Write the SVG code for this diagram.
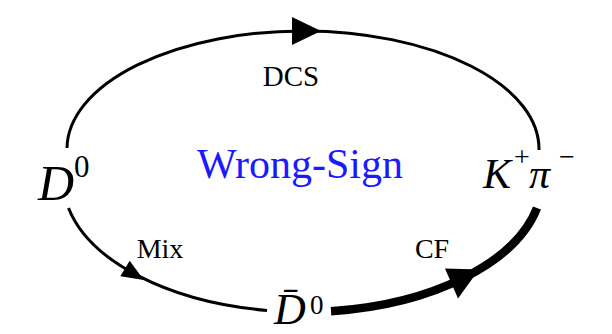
<svg xmlns="http://www.w3.org/2000/svg" width="612" height="334" viewBox="0 0 612 334">
<style>
.ln{fill:none;stroke:#000;stroke-linecap:butt}
.ah{fill:#000;stroke:none}
.t{font-family:"Liberation Serif","Times New Roman",serif;fill:#000}
.it{font-style:italic}
</style>
<rect width="612" height="334" fill="#fff"/>
<g id="connectors">
<path class="ln" stroke-width="3" d="M67,148 A236,118 0 0 1 539,150"/>
<polygon class="ah" points="292,17 292,45 321,31"/>
<path class="ln" stroke-width="3" d="M68.5,208 A240,132 0 0 0 267,310.4"/>
<polygon class="ah" points="120.3,276.2 129.7,260.8 143.8,279.9"/>
<path class="ln" stroke-width="8.5" d="M331,311.2 A240,132 0 0 0 537,208"/>
<polygon class="ah" points="445,268.5 458,298.5 479,269.5"/>
</g>
<g id="node-D0">
<text class="t it" x="38" y="200" font-size="50">D</text>
<text class="t" x="74" y="177" font-size="31">0</text>
</g>
<g id="node-Kpi">
<text class="t it" x="483" y="188" font-size="42">K</text>
<text class="t" x="514" y="166" font-size="28">+</text>
<text class="t it" x="529" y="188" font-size="42">π</text>
<text class="t" x="559" y="166" font-size="28">−</text>
</g>
<g id="node-D0bar">
<text class="t it" x="274" y="324" font-size="44">D̄</text>
<text class="t" x="310" y="314" font-size="27">0</text>
</g>
<g id="labels">
<text class="t" x="291" y="86" font-size="29" text-anchor="middle">DCS</text>
<text class="t" x="300" y="178" font-size="42" text-anchor="middle" style="fill:#1a1aff">Wrong-Sign</text>
<text class="t" x="160" y="258" font-size="28" text-anchor="middle">Mix</text>
<text class="t" x="432" y="258" font-size="28" text-anchor="middle">CF</text>
</g>
</svg>
